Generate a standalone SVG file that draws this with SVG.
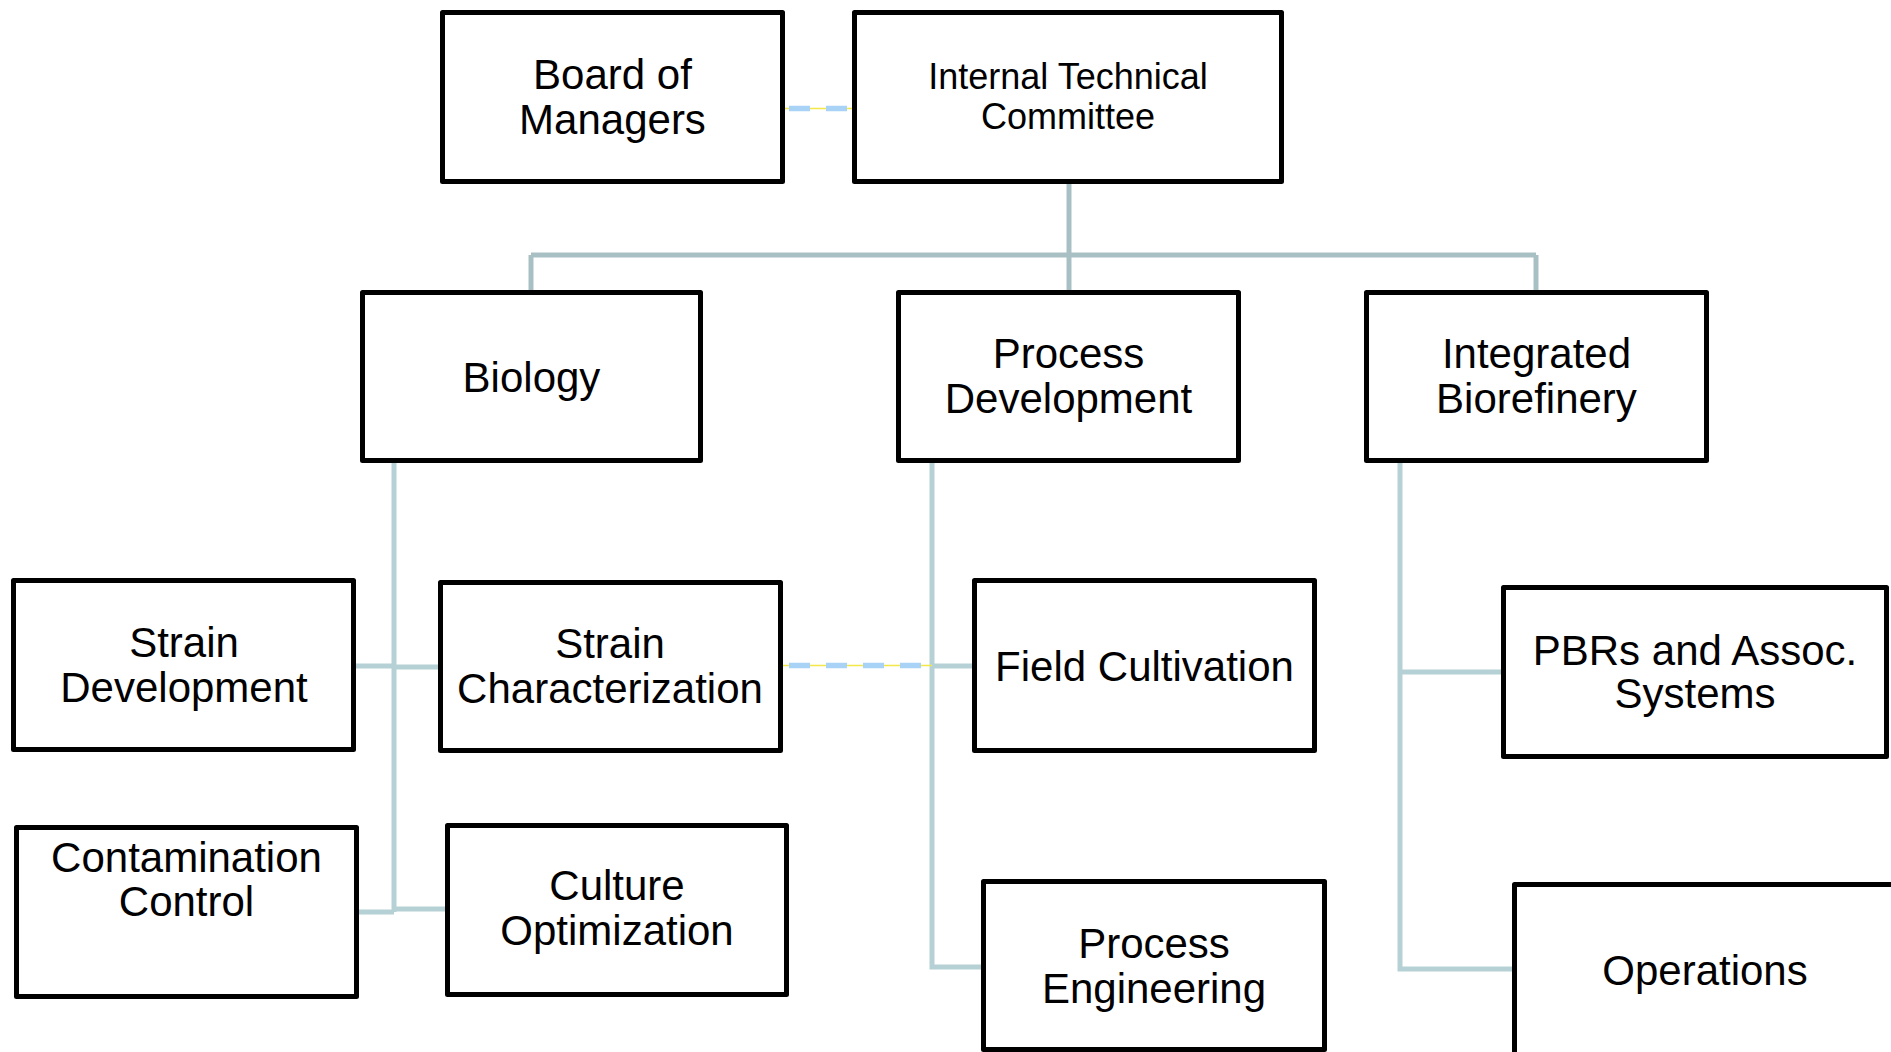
<svg xmlns="http://www.w3.org/2000/svg" width="1891" height="1052" viewBox="0 0 1891 1052">
  <style>
    .box { fill: #ffffff; stroke: #000000; stroke-width: 5; stroke-linejoin: round; }
    .lbl { font-family: "Liberation Sans", Arial, sans-serif; font-size: 42px; fill: #000000; text-anchor: middle; }
    .lbl-s { font-size: 36px; }
    .conn { fill: none; stroke: #b6d1d5; stroke-width: 5; stroke-linecap: butt; }
    .conn-top { stroke: #a8c0c3; }
    .dash-y { fill: none; stroke: #f2e84a; stroke-width: 1.6; }
    .dash-b { fill: none; stroke: #a8d3f7; stroke-width: 5.5; stroke-dasharray: 21 16; }
  </style>
  <rect x="0" y="0" width="1891" height="1052" fill="#ffffff"/>

  <g id="connectors">
    <path class="conn conn-top" d="M1069 184 V290"/>
    <path class="conn conn-top" d="M531 255 H1536"/>
    <path class="conn conn-top" d="M531 255 V290"/>
    <path class="conn conn-top" d="M1536 255 V290"/>

    <path class="conn" d="M394 463 V912"/>
    <path class="conn" d="M356 666 H394"/>
    <path class="conn" d="M394 667 H438"/>
    <path class="conn" d="M359 912 H394"/>
    <path class="conn" d="M394 909 H445"/>

    <path class="conn" d="M932 463 V967 H982"/>
    <path class="conn" d="M932 666 H972"/>

    <path class="conn" d="M1400 463 V969 H1512"/>
    <path class="conn" d="M1400 672 H1501"/>

    <path class="dash-y" d="M785 108.5 H852"/>
    <path class="dash-b" d="M789 108.5 H848"/>
    <path class="dash-y" d="M783 665.5 H932"/>
    <path class="dash-b" d="M789 665.5 H922"/>
  </g>

  <g id="board-of-managers">
    <rect class="box" x="442.5" y="12.5" width="340" height="169"/>
    <text class="lbl" x="612.5" y="89">Board of</text>
    <text class="lbl" x="612.5" y="134">Managers</text>
  </g>

  <g id="internal-technical-committee">
    <rect class="box" x="854.5" y="12.5" width="427" height="169"/>
    <text class="lbl lbl-s" x="1068" y="89">Internal Technical</text>
    <text class="lbl lbl-s" x="1068" y="129">Committee</text>
  </g>

  <g id="biology">
    <rect class="box" x="362.5" y="292.5" width="338" height="168"/>
    <text class="lbl" x="531.5" y="392">Biology</text>
  </g>

  <g id="process-development">
    <rect class="box" x="898.5" y="292.5" width="340" height="168"/>
    <text class="lbl" x="1068.5" y="368">Process</text>
    <text class="lbl" x="1068.5" y="413">Development</text>
  </g>

  <g id="integrated-biorefinery">
    <rect class="box" x="1366.5" y="292.5" width="340" height="168"/>
    <text class="lbl" x="1536.5" y="368">Integrated</text>
    <text class="lbl" x="1536.5" y="413">Biorefinery</text>
  </g>

  <g id="strain-development">
    <rect class="box" x="13.5" y="580.5" width="340" height="169"/>
    <text class="lbl" x="184" y="657">Strain</text>
    <text class="lbl" x="184" y="702">Development</text>
  </g>

  <g id="strain-characterization">
    <rect class="box" x="440.5" y="582.5" width="340" height="168"/>
    <text class="lbl" x="610" y="658">Strain</text>
    <text class="lbl" x="610" y="703">Characterization</text>
  </g>

  <g id="field-cultivation">
    <rect class="box" x="974.5" y="580.5" width="340" height="170"/>
    <text class="lbl" x="1144.5" y="681">Field Cultivation</text>
  </g>

  <g id="pbrs-and-assoc-systems">
    <rect class="box" x="1503.5" y="587.5" width="383" height="169"/>
    <text class="lbl" x="1695" y="665">PBRs and Assoc.</text>
    <text class="lbl" x="1695" y="708">Systems</text>
  </g>

  <g id="contamination-control">
    <rect class="box" x="16.5" y="827.5" width="340" height="169"/>
    <text class="lbl" x="186.5" y="872">Contamination</text>
    <text class="lbl" x="186.5" y="916">Control</text>
  </g>

  <g id="culture-optimization">
    <rect class="box" x="447.5" y="825.5" width="339" height="169"/>
    <text class="lbl" x="617" y="900">Culture</text>
    <text class="lbl" x="617" y="945">Optimization</text>
  </g>

  <g id="process-engineering">
    <rect class="box" x="983.5" y="881.5" width="341" height="168"/>
    <text class="lbl" x="1154" y="958">Process</text>
    <text class="lbl" x="1154" y="1003">Engineering</text>
  </g>

  <g id="operations">
    <rect class="box" x="1514.5" y="884.5" width="380" height="170"/>
    <text class="lbl" x="1705" y="985">Operations</text>
  </g>
</svg>
